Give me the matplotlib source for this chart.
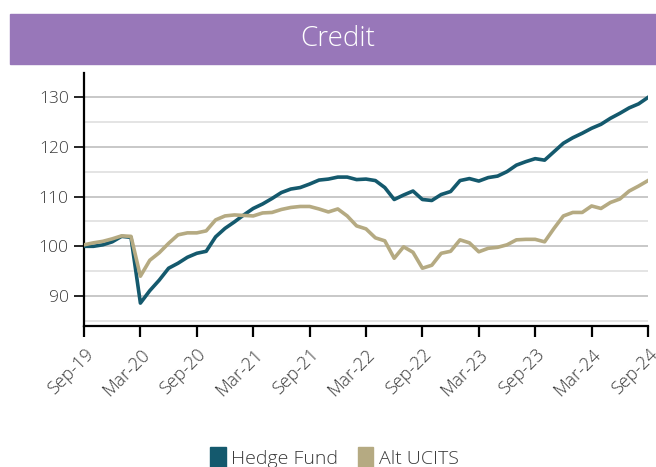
import matplotlib
matplotlib.use("Agg")
import matplotlib.pyplot as plt
from matplotlib.patches import Patch, Rectangle

plt.rcParams['font.family'] = ['Open Sans', 'DejaVu Sans']
plt.rcParams['font.weight'] = 'light'

# monthly index, Sep-19 .. Sep-24
hedge_fund = [100.0, 100.0, 100.3, 100.9, 102.0, 101.8, 88.6, 91.1, 93.2, 95.6,
              96.6, 97.8, 98.6, 99.0, 101.9, 103.6, 104.9, 106.3, 107.6, 108.5,
              109.6, 110.8, 111.5, 111.8, 112.5, 113.3, 113.5, 113.9, 113.9, 113.4,
              113.5, 113.2, 111.8, 109.4, 110.3, 111.1, 109.4, 109.2, 110.4, 111.0,
              113.2, 113.6, 113.1, 113.8, 114.1, 115.0, 116.3, 117.0, 117.6, 117.3,
              119.0, 120.7, 121.8, 122.7, 123.7, 124.5, 125.7, 126.7, 127.8, 128.6,
              129.9]
alt_ucits = [100.3, 100.7, 101.0, 101.5, 102.1, 102.0, 94.0, 97.2, 98.7, 100.6,
             102.3, 102.7, 102.7, 103.1, 105.3, 106.1, 106.3, 106.2, 106.1, 106.7,
             106.8, 107.4, 107.8, 108.0, 108.0, 107.5, 106.9, 107.5, 106.1, 104.1,
             103.5, 101.7, 101.1, 97.6, 99.9, 98.8, 95.6, 96.2, 98.6, 99.0,
             101.3, 100.7, 98.9, 99.6, 99.8, 100.3, 101.3, 101.4, 101.4, 100.9,
             103.6, 106.1, 106.8, 106.8, 108.1, 107.6, 108.8, 109.5, 111.1, 112.1,
             113.2]
tick_labels = ['Sep-19', 'Mar-20', 'Sep-20', 'Mar-21', 'Sep-21', 'Mar-22',
               'Sep-22', 'Mar-23', 'Sep-23', 'Mar-24', 'Sep-24']

hf_color = '#14596d'
uc_color = '#b5aa82'
text_color = '#3a3a3a'

fig = plt.figure(figsize=(6.56, 4.67), dpi=100)

# title banner
fig.patches.append(Rectangle((10 / 656, 1 - 64 / 467), 1, 50 / 467,
                             transform=fig.transFigure, color='#9877b9', zorder=0))
fig.text(0.515, 1 - 39 / 467, 'Credit', color='white', fontsize=20,
         ha='center', va='center')

ax = fig.add_axes([84 / 656, 1 - 326 / 467, 564 / 656, 253 / 467])
months = list(range(len(hedge_fund)))
ax.plot(months, hedge_fund, color=hf_color, lw=2.6, zorder=3)
ax.plot(months, alt_ucits, color=uc_color, lw=2.6, zorder=3)

ax.set_xlim(0, len(months) - 1)
ax.set_ylim(84, 134.8)
ax.set_yticks([90, 100, 110, 120, 130])
ax.set_yticks([85, 95, 105, 115, 125], minor=True)
ax.set_xticks(range(0, len(months), 6))
ax.set_xticklabels(tick_labels, rotation=45, ha='right', rotation_mode='anchor')

ax.grid(axis='y', which='major', color='#c8c8c8', lw=1.4)
ax.grid(axis='y', which='minor', color='#e4e4e4', lw=1.4)
ax.set_axisbelow(True)

for s in ['top', 'right']:
    ax.spines[s].set_visible(False)
for s in ['left', 'bottom']:
    ax.spines[s].set_color('black')
    ax.spines[s].set_linewidth(1.6)

ax.tick_params(axis='y', which='major', length=7, width=1.2, labelsize=12.5,
               labelcolor=text_color, pad=4)
ax.tick_params(axis='y', which='minor', length=0)
ax.tick_params(axis='x', length=8, width=1.6, labelsize=13,
               labelcolor=text_color, pad=6)

handles = [Patch(color=hf_color, label='Hedge Fund'),
           Patch(color=uc_color, label='Alt UCITS')]
fig.legend(handles=handles, loc='center', bbox_to_anchor=(0.51, 0.02), ncol=2,
           frameon=False, fontsize=14, handlelength=0.8, handleheight=1.3,
           handletextpad=0.3, columnspacing=1.0, labelcolor=text_color)

fig.savefig('out.png', dpi=100)
